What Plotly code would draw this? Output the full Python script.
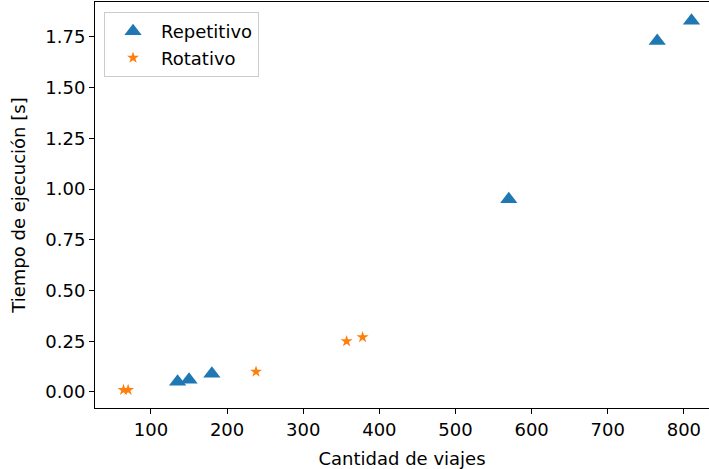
import plotly.graph_objects as go

rep_x = [135, 150, 180, 570, 765, 810]
rep_y = [0.05, 0.06, 0.09, 0.95, 1.73, 1.83]
rot_x = [64, 70, 238, 357, 378]
rot_y = [0.01, 0.01, 0.10, 0.25, 0.27]

x_ticks = [100, 200, 300, 400, 500, 600, 700, 800]
y_ticks = [0.0, 0.25, 0.5, 0.75, 1.0, 1.25, 1.5, 1.75]
y_labels = ["0.00", "0.25", "0.50", "0.75", "1.00", "1.25", "1.50", "1.75"]

FONT = "DejaVu Sans, sans-serif"

fig = go.Figure()
fig.add_trace(go.Scatter(x=rep_x, y=rep_y, mode="markers", name="Repetitivo", cliponaxis=False,
                         marker=dict(symbol="triangle-up", size=15, color="#1f77b4")))
fig.add_trace(go.Scatter(x=rot_x, y=rot_y, mode="markers", name="Rotativo", cliponaxis=False,
                         marker=dict(symbol="star", size=9, color="#ff7f0e")))

fig.update_layout(
    width=709, height=469,
    margin=dict(l=95, r=0, t=2, b=61),
    paper_bgcolor="white", plot_bgcolor="white",
    font=dict(family=FONT, size=18, color="black"),
    showlegend=True,
    legend=dict(x=0.0147, y=0.975, xanchor="left", yanchor="top",
                bordercolor="#cccccc", borderwidth=1, bgcolor="rgba(255,255,255,0.8)",
                font=dict(size=18), itemwidth=46),
    xaxis=dict(range=[26.5, 833], tickvals=x_ticks, showgrid=False, zeroline=False,
               showline=True, linecolor="black", linewidth=1, mirror=True,
               ticks="outside", ticklen=5, tickcolor="black", automargin=False,
               title=dict(text="Cantidad de viajes", font=dict(size=18))),
    yaxis=dict(range=[-0.079, 1.922], tickvals=y_ticks, ticktext=y_labels, showgrid=False,
               zeroline=False, showline=True, linecolor="black", linewidth=1,
               ticks="outside", ticklen=5, tickcolor="black", automargin=False,
               title=dict(text="Tiempo de ejecución [s]", font=dict(size=18))),
)

fig.write_html("out.html", config={"displayModeBar": False},
               post_script="document.body.style.margin='0px';")
